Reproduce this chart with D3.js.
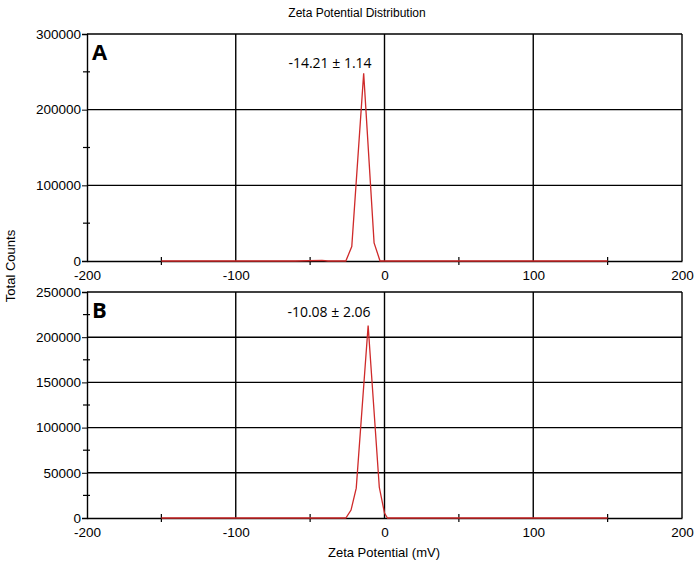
<!DOCTYPE html>
<html>
<head>
<meta charset="utf-8">
<script src="https://cdn.jsdelivr.net/npm/d3@7"></script>
<style>
  body { margin: 0; background: #fff; }
  svg { display: block; font-family: "Liberation Sans", Arial, sans-serif; }
</style>
</head>
<body>
<svg width="695" height="568"></svg>
<script>
// x ticks shared by both panels
const xTicks = [-200, -100, 0, 100, 200];
const xMinor = [-150, -50, 50, 150];

// panel A
const zetaA = [-150, -100, -60, -42, -38, -30, -26, -22, -14, -7, -3, 0, 50, 100, 150];
const countA = [0, 0, 0, 800, 0, 0, 0, 19000, 248000, 24000, 0, 0, 0, 0, 0];
const yTicksA = [0, 100000, 200000, 300000];
const yMinorA = [50000, 150000, 250000];

// panel B
const zetaB = [-150, -100, -50, -26, -22.5, -19, -11, -3.5, 0, 2, 6, 50, 100, 150];
const countB = [0, 0, 0, 0, 8800, 33000, 213000, 34000, 5500, 0, 0, 0, 0, 0];
const yTicksB = [0, 50000, 100000, 150000, 200000, 250000];
const yMinorB = [25000, 75000, 125000, 175000, 225000];

const panels = [
  {label: 'A', note: '-14.21 \u00b1 1.14', zeta: zetaA, count: countA, yTicks: yTicksA, yMinor: yMinorA,
   top: 34, bottom: 261, noteX: 330, noteY: 68},
  {label: 'B', note: '-10.08 \u00b1 2.06', zeta: zetaB, count: countB, yTicks: yTicksB, yMinor: yMinorB,
   top: 292, bottom: 518, noteX: 329, noteY: 317}
];

const svg = d3.select('svg');
const x = d3.scaleLinear().domain([-200, 200]).range([87, 682]);
const fmt = d => String(d);

svg.append('text')
  .attr('x', 357).attr('y', 17)
  .attr('text-anchor', 'middle')
  .style('font-size', '12px')
  .text('Zeta Potential Distribution');

svg.append('text')
  .attr('transform', 'translate(15,266) rotate(-90)')
  .attr('text-anchor', 'middle')
  .style('font-size', '13px')
  .text('Total Counts');

svg.append('text')
  .attr('x', 384).attr('y', 557)
  .attr('text-anchor', 'middle')
  .style('font-size', '13px')
  .text('Zeta Potential (mV)');

panels.forEach(p => {
  const y = d3.scaleLinear().domain([0, d3.max(p.yTicks)]).range([p.bottom, p.top]);
  const g = svg.append('g');

  // horizontal grid
  g.selectAll('.hg').data(p.yTicks.slice(1)).enter().append('line')
    .attr('x1', x(-200)).attr('x2', x(200))
    .attr('y1', d => y(d)).attr('y2', d => y(d))
    .attr('stroke', '#000').attr('stroke-width', 1.4);

  // vertical grid
  g.selectAll('.vg').data(xTicks.slice(1)).enter().append('line')
    .attr('x1', d => x(d)).attr('x2', d => x(d))
    .attr('y1', y.range()[1]).attr('y2', y.range()[0])
    .attr('stroke', '#000').attr('stroke-width', 1.4);

  // y axis
  const yAxis = d3.axisLeft(y).tickValues(p.yTicks).tickSize(5).tickPadding(1).tickFormat(fmt);
  const ya = g.append('g').attr('transform', `translate(${x(-200)},0)`).call(yAxis);
  ya.select('.domain').attr('stroke-width', 1.4);
  ya.selectAll('text').style('font-size', '13.5px').attr('fill', '#000');

  g.selectAll('.ym').data(p.yMinor).enter().append('line')
    .attr('x1', x(-200) - 4).attr('x2', x(-200) + 3)
    .attr('y1', d => y(d)).attr('y2', d => y(d))
    .attr('stroke', '#000').attr('stroke-width', 1.2);

  // x axis
  const xAxis = d3.axisBottom(x).tickValues(xTicks).tickSize(0).tickPadding(9).tickFormat(fmt);
  const xa = g.append('g').attr('transform', `translate(0,${p.bottom})`).call(xAxis);
  xa.select('.domain').attr('stroke-width', 1.4);
  xa.selectAll('text').style('font-size', '13.5px').attr('fill', '#000');

  g.selectAll('.xm').data(xMinor).enter().append('line')
    .attr('x1', d => x(d)).attr('x2', d => x(d))
    .attr('y1', p.bottom - 4).attr('y2', p.bottom + 4)
    .attr('stroke', '#000').attr('stroke-width', 1.2);

  // distribution curve
  const line = d3.line().x(d => x(d[0])).y(d => y(d[1]));
  g.append('path')
    .datum(d3.zip(p.zeta, p.count))
    .attr('d', line)
    .attr('fill', 'none')
    .attr('stroke', '#cf2a2a')
    .attr('stroke-width', 1.3);

  g.append('text')
    .attr('x', x(-200) + 5).attr('y', p.top + 26)
    .style('font-family', '"Open Sans", sans-serif')
    .style('font-weight', 'bold').style('font-size', '22px')
    .text(p.label);

  g.append('text')
    .attr('x', p.noteX).attr('y', p.noteY)
    .attr('text-anchor', 'middle')
    .style('font-family', '"Open Sans", sans-serif')
    .style('font-size', '14px')
    .text(p.note);
});
</script>
</body>
</html>
